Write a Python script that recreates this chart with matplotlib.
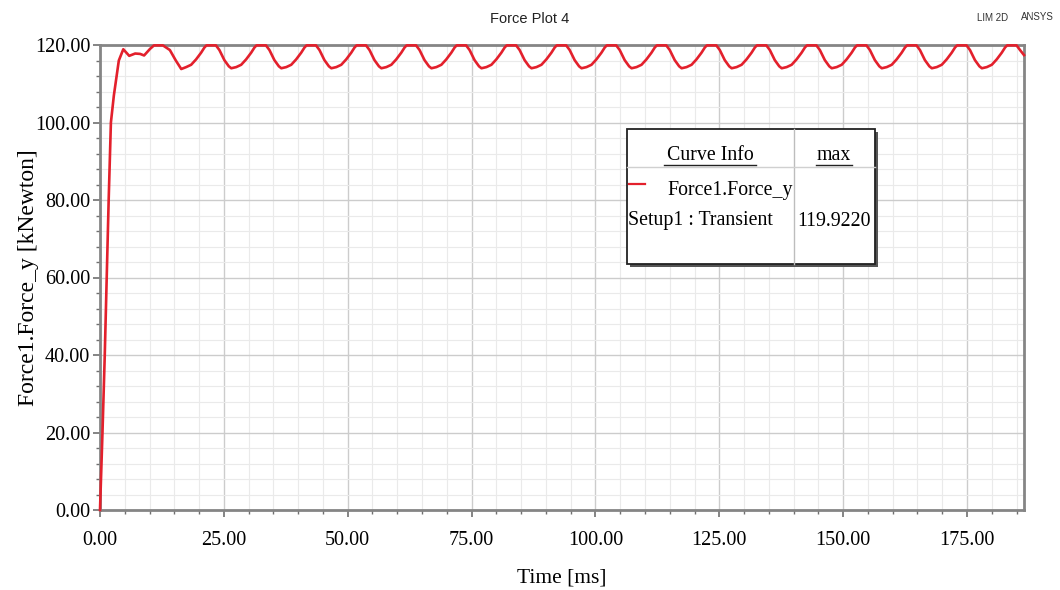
import numpy as np
import matplotlib.pyplot as plt
from matplotlib.patches import Rectangle
from matplotlib.lines import Line2D
from matplotlib.ticker import MultipleLocator, FormatStrFormatter

# Force1.Force_y, Setup1 : Transient
time_ms = [
    0.0, 0.1, 0.5, 0.95, 1.35, 1.75, 2.2, 2.8, 3.8, 4.7, 5.9, 7.1, 8.1, 8.9,
    10.1, 10.9, 12.7, 14.1, 15.3,
    16.4, 17.4, 18.4, 19.4, 20.4, 21.1, 21.5, 23.4, 24.1, 25.1, 26.0,
    26.5, 27.5, 28.5, 29.5, 30.5, 31.2, 31.6, 33.5, 34.2, 35.2, 36.1,
    36.6, 37.6, 38.6, 39.6, 40.6, 41.3, 41.7, 43.6, 44.3, 45.3, 46.2,
    46.7, 47.7, 48.7, 49.7, 50.7, 51.4, 51.8, 53.7, 54.4, 55.4, 56.3,
    56.8, 57.8, 58.8, 59.8, 60.8, 61.5, 61.9, 63.8, 64.5, 65.5, 66.4,
    66.9, 67.9, 68.9, 69.9, 70.9, 71.6, 72.0, 73.9, 74.6, 75.6, 76.5,
    77.0, 78.0, 79.0, 80.0, 81.0, 81.7, 82.1, 84.0, 84.7, 85.7, 86.6,
    87.1, 88.1, 89.1, 90.1, 91.1, 91.8, 92.2, 94.1, 94.8, 95.8, 96.7,
    97.2, 98.2, 99.2, 100.2, 101.2, 101.9, 102.3, 104.2, 104.9, 105.9, 106.8,
    107.3, 108.3, 109.3, 110.3, 111.3, 112.0, 112.4, 114.3, 115.0, 116.0, 116.9,
    117.4, 118.4, 119.4, 120.4, 121.4, 122.1, 122.5, 124.4, 125.1, 126.1, 127.0,
    127.5, 128.5, 129.5, 130.5, 131.5, 132.2, 132.6, 134.5, 135.2, 136.2, 137.1,
    137.6, 138.6, 139.6, 140.6, 141.6, 142.3, 142.7, 144.6, 145.3, 146.3, 147.2,
    147.7, 148.7, 149.7, 150.7, 151.7, 152.4, 152.8, 154.7, 155.4, 156.4, 157.3,
    157.8, 158.8, 159.8, 160.8, 161.8, 162.5, 162.9, 164.8, 165.5, 166.5, 167.4,
    167.9, 168.9, 169.9, 170.9, 171.9, 172.6, 173.0, 174.9, 175.6, 176.6, 177.5,
    178.0, 179.0, 180.0, 181.0, 182.0, 182.7, 183.1, 185.0, 185.7, 186.5,
]
force_kn = [
    0.0, 4.0, 20.0, 39.5, 60.0, 80.0, 100.0, 107.0, 116.0, 118.9, 117.2, 117.8, 117.7, 117.3,
    119.0, 119.9, 119.9, 118.7, 116.0,
    113.8, 114.3, 114.9, 116.3, 118.0, 119.4, 119.9, 119.9, 118.7, 116.1, 114.5,
    114.0, 114.3, 114.9, 116.3, 118.0, 119.4, 119.9, 119.9, 118.7, 116.1, 114.5,
    114.0, 114.3, 114.9, 116.3, 118.0, 119.4, 119.9, 119.9, 118.7, 116.1, 114.5,
    114.0, 114.3, 114.9, 116.3, 118.0, 119.4, 119.9, 119.9, 118.7, 116.1, 114.5,
    114.0, 114.3, 114.9, 116.3, 118.0, 119.4, 119.9, 119.9, 118.7, 116.1, 114.5,
    114.0, 114.3, 114.9, 116.3, 118.0, 119.4, 119.9, 119.9, 118.7, 116.1, 114.5,
    114.0, 114.3, 114.9, 116.3, 118.0, 119.4, 119.9, 119.9, 118.7, 116.1, 114.5,
    114.0, 114.3, 114.9, 116.3, 118.0, 119.4, 119.9, 119.9, 118.7, 116.1, 114.5,
    114.0, 114.3, 114.9, 116.3, 118.0, 119.4, 119.9, 119.9, 118.7, 116.1, 114.5,
    114.0, 114.3, 114.9, 116.3, 118.0, 119.4, 119.9, 119.9, 118.7, 116.1, 114.5,
    114.0, 114.3, 114.9, 116.3, 118.0, 119.4, 119.9, 119.9, 118.7, 116.1, 114.5,
    114.0, 114.3, 114.9, 116.3, 118.0, 119.4, 119.9, 119.9, 118.7, 116.1, 114.5,
    114.0, 114.3, 114.9, 116.3, 118.0, 119.4, 119.9, 119.9, 118.7, 116.1, 114.5,
    114.0, 114.3, 114.9, 116.3, 118.0, 119.4, 119.9, 119.9, 118.7, 116.1, 114.5,
    114.0, 114.3, 114.9, 116.3, 118.0, 119.4, 119.9, 119.9, 118.7, 116.1, 114.5,
    114.0, 114.3, 114.9, 116.3, 118.0, 119.4, 119.9, 119.9, 118.7, 116.1, 114.5,
    114.0, 114.3, 114.9, 116.3, 118.0, 119.4, 119.9, 119.9, 118.7, 117.4,
]
x_ticks = [0, 25, 50, 75, 100, 125, 150, 175]
y_ticks = [0, 20, 40, 60, 80, 100, 120]
max_value = "119.9220"

W, H = 1060, 590
fig = plt.figure(figsize=(W / 100, H / 100), dpi=100)
fig.patch.set_facecolor("white")

# axes box in pixels: left 100, right 1024, top 45, bottom 510
ax = fig.add_axes([100 / W, 1 - 510 / H, 924 / W, 465 / H])
ax.plot(time_ms, force_kn, color="#e3202c", lw=1.9, zorder=3, clip_on=False)

ax.set_xlim(0, 186.5)
ax.set_ylim(0, 120)
ax.set_xticks(x_ticks)
ax.set_yticks(y_ticks)
ax.xaxis.set_minor_locator(MultipleLocator(5))
ax.yaxis.set_minor_locator(MultipleLocator(4))
ax.xaxis.set_major_formatter(FormatStrFormatter("%.2f"))
ax.yaxis.set_major_formatter(FormatStrFormatter("%.2f"))

ax.grid(which="major", color="#cccccc", lw=1.0)
ax.grid(which="minor", color="#eaeaea", lw=0.8)
ax.set_axisbelow(True)

for s in ax.spines.values():
    s.set_color("#858585")
    s.set_linewidth(2.0)

serif = ["Liberation Serif", "DejaVu Serif"]
ax.tick_params(which="major", direction="out", length=5, width=1.2, color="#707070",
               labelsize=14.5)
ax.tick_params(axis="x", which="major", pad=10)
ax.tick_params(axis="y", which="major", pad=2)
ax.tick_params(which="minor", direction="out", length=3, width=1.0, color="#707070")
for lab in ax.get_xticklabels() + ax.get_yticklabels():
    lab.set_family(serif)

ax.set_xlabel("Time [ms]", family=serif, fontsize=15.5)
ax.set_ylabel("Force1.Force_y [kNewton]", family=serif, fontsize=17)
ax.xaxis.set_label_coords(0.5, -0.125)
ax.yaxis.set_label_coords(-0.066, 0.5)

fig.text(0.5, 1 - 19 / H, "Force Plot 4", ha="center", va="center",
         family="Liberation Sans", fontsize=10.5, color="#222222")
fig.text(993 / W, 1 - 18 / H, "LIM 2D", ha="center", va="center",
         family="Liberation Sans", fontsize=7, color="#333333")
fig.text(1037 / W, 1 - 17 / H, "ANSYS", ha="center", va="center",
         family="Liberation Sans", fontsize=7, color="#333333")


# legend table drawn in figure pixels
def px(x, y):
    return x / W, 1 - y / H


bx0, by0, bx1, by1 = 627, 129, 875, 264
fig.patches.append(Rectangle(px(bx0 + 3, by1 + 3), (bx1 - bx0) / W, (by1 - by0) / H,
                             transform=fig.transFigure, facecolor="#555555",
                             edgecolor="none", zorder=9))
fig.patches.append(Rectangle(px(bx0, by1), (bx1 - bx0) / W, (by1 - by0) / H,
                             transform=fig.transFigure, facecolor="white",
                             edgecolor="#222222", lw=1.3, zorder=10))
fig.lines.append(Line2D([794 / W, 794 / W], [1 - by0 / H, 1 - by1 / H],
                        transform=fig.transFigure, color="#bdbdbd", lw=1, zorder=11))
fig.lines.append(Line2D([bx0 / W, bx1 / W], [1 - 167 / H, 1 - 167 / H],
                        transform=fig.transFigure, color="#d0d0d0", lw=1, zorder=11))
fig.lines.append(Line2D([629 / W, 645 / W], [1 - 184 / H, 1 - 184 / H],
                        transform=fig.transFigure, color="#e3202c", lw=1.6, zorder=11))

fs_leg = 14.3
fig.text(*px(710, 155), "Curve Info", ha="center", va="center", family=serif,
         fontsize=fs_leg, zorder=12)
fig.lines.append(Line2D([664 / W, 756 / W], [1 - 165 / H, 1 - 165 / H],
                        transform=fig.transFigure, color="#222222", lw=1, zorder=12))
fig.text(*px(834, 155), "max", ha="center", va="center", family=serif,
         fontsize=fs_leg, zorder=12)
fig.lines.append(Line2D([816 / W, 852 / W], [1 - 165 / H, 1 - 165 / H],
                        transform=fig.transFigure, color="#222222", lw=1, zorder=12))
fig.text(*px(667, 191), "Force1.Force_y", ha="left", va="center", family=serif,
         fontsize=fs_leg, zorder=12)
fig.text(*px(628, 221), "Setup1 : Transient", ha="left", va="center", family=serif,
         fontsize=fs_leg, zorder=12)
fig.text(*px(797, 221), max_value, ha="left", va="center", family=serif,
         fontsize=fs_leg, zorder=12)

fig.savefig("out.png", dpi=100, facecolor="white")
